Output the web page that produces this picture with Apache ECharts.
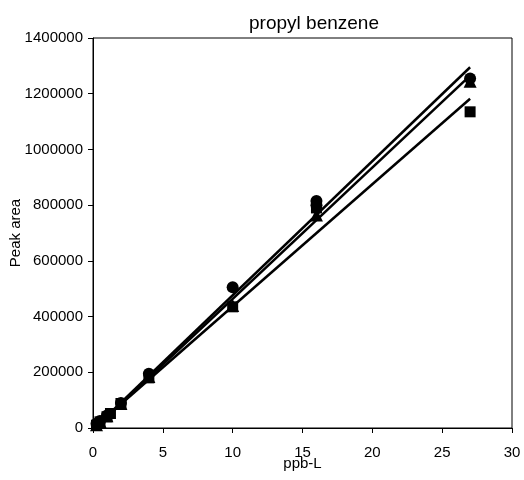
<!DOCTYPE html>
<html>
<head>
<meta charset="utf-8">
<script src="https://cdn.jsdelivr.net/npm/echarts@6/dist/echarts.min.js"></script>
<style>html,body{margin:0;padding:0;background:#fff;}#c{width:524px;height:480px;}</style>
</head>
<body>
<div id="c"></div>
<script>
const chartTitle = 'propyl benzene';
const xName = 'ppb-L';
const yName = 'Peak area';

const circleX = [0.25, 0.5, 1, 2, 4, 10, 16, 16, 27];
const circleY = [15000, 25000, 45000, 90000, 195000, 505000, 815000, 800000, 1255000];

const triangleX = [0.25, 0.5, 1, 2, 4, 10, 16, 27];
const triangleY = [12000, 23000, 44000, 88000, 185000, 440000, 765000, 1245000];

const squareX = [0.25, 0.5, 1, 1.25, 2, 4, 10, 16, 27];
const squareY = [10000, 22000, 40000, 52000, 88000, 180000, 435000, 790000, 1135000];

// fitted trend lines: [x, y] endpoints
const lineCircle = [[0, -5000], [27, 1295000]];
const lineTriangle = [[0, -8000], [27, 1265000]];
const lineSquare = [[0, -2000], [27, 1182000]];

const pts = (xs, ys) => xs.map((x, i) => [x, ys[i]]);

const chart = echarts.init(document.getElementById('c'));
const font = 'Liberation Sans, Arial, sans-serif';
const lineSeries = (d) => ({
  type: 'line', data: d, symbol: 'none', silent: true,
  lineStyle: { color: '#000', width: 2.5 }, z: 2
});
chart.setOption({
  animation: false,
  title: {
    text: chartTitle, left: 309, top: 9, textAlign: 'center',
    textStyle: { fontFamily: font, fontSize: 19, fontWeight: 'normal', color: '#000' }
  },
  grid: { left: 93, right: 12, top: 38, bottom: 52, containLabel: false, outerBoundsMode: 'none',
          show: true, borderColor: '#000', borderWidth: 1, backgroundColor: 'transparent' },
  xAxis: {
    type: 'value', min: 0, max: 30, interval: 5,
    name: xName, nameLocation: 'middle', nameGap: 28, nameMoveOverlap: false,
    nameTextStyle: { fontFamily: font, fontSize: 15, color: '#000' },
    axisLine: { show: true, onZero: false, lineStyle: { color: '#000', width: 1 } },
    axisTick: { show: true, inside: false, length: 5, lineStyle: { color: '#000' } },
    axisLabel: { fontFamily: font, fontSize: 15, color: '#000', margin: 17 },
    splitLine: { show: false }
  },
  yAxis: {
    type: 'value', min: 0, max: 1400000, interval: 200000,
    name: yName, nameLocation: 'middle', nameGap: 70, nameRotate: 90, nameMoveOverlap: false,
    nameTextStyle: { fontFamily: font, fontSize: 15, color: '#000' },
    axisLine: { show: true, onZero: false, lineStyle: { color: '#000', width: 1 } },
    axisTick: { show: true, inside: false, length: 5, lineStyle: { color: '#000' } },
    axisLabel: { fontFamily: font, fontSize: 15, color: '#000', margin: 10, formatter: (v) => String(v) },
    splitLine: { show: false }
  },
  series: [
    lineSeries(lineCircle),
    lineSeries(lineTriangle),
    lineSeries(lineSquare),
    { type: 'scatter', data: pts(squareX, squareY), symbol: 'rect', symbolSize: 11, itemStyle: { color: '#000', opacity: 1 }, z: 3 },
    { type: 'scatter', data: pts(triangleX, triangleY), symbol: 'triangle', symbolSize: 13, itemStyle: { color: '#000', opacity: 1 }, z: 3 },
    { type: 'scatter', data: pts(circleX, circleY), symbol: 'circle', symbolSize: 12, itemStyle: { color: '#000', opacity: 1 }, z: 3 }
  ]
});
</script>
</body>
</html>
